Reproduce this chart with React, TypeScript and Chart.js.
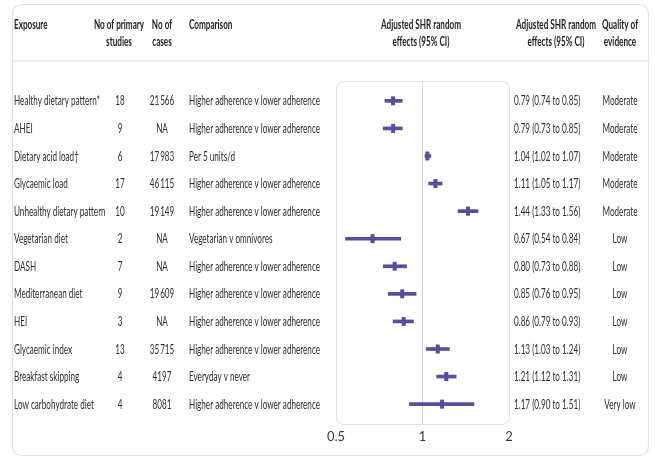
import React, { useEffect, useRef } from "react";
import { Chart, registerables } from "chart.js";

Chart.register(...registerables);

const exposures = [
  "Healthy dietary pattern*",
  "AHEI",
  "Dietary acid load†",
  "Glycaemic load",
  "Unhealthy dietary pattern",
  "Vegetarian diet",
  "DASH",
  "Mediterranean diet",
  "HEI",
  "Glycaemic index",
  "Breakfast skipping",
  "Low carbohydrate diet",
];
const studies = [18, 9, 6, 17, 10, 2, 7, 9, 3, 13, 4, 4];
const cases = ["21\u2009566", "NA", "17\u2009983", "46\u2009115", "19\u2009149", "NA", "NA", "19\u2009609", "NA", "35\u2009715", "4197", "8081"];
const comparisons = [
  "Higher adherence v lower adherence",
  "Higher adherence v lower adherence",
  "Per 5 units/d",
  "Higher adherence v lower adherence",
  "Higher adherence v lower adherence",
  "Vegetarian v omnivores",
  "Higher adherence v lower adherence",
  "Higher adherence v lower adherence",
  "Higher adherence v lower adherence",
  "Higher adherence v lower adherence",
  "Everyday v never",
  "Higher adherence v lower adherence",
];
const shr = [0.79, 0.79, 1.04, 1.11, 1.44, 0.67, 0.8, 0.85, 0.86, 1.13, 1.21, 1.17];
const lower = [0.74, 0.73, 1.02, 1.05, 1.33, 0.54, 0.73, 0.76, 0.79, 1.03, 1.12, 0.9];
const upper = [0.85, 0.85, 1.07, 1.17, 1.56, 0.84, 0.88, 0.95, 0.93, 1.24, 1.31, 1.51];
const quality = ["Moderate", "Moderate", "Moderate", "Moderate", "Moderate", "Low", "Low", "Low", "Low", "Low", "Low", "Very low"];
const xTicks = [0.5, 1, 2];

const PURPLE = "#5a4d9e";
const FONT = "Lato";

function drawText(ctx: CanvasRenderingContext2D, text: string, x: number, y: number, align: CanvasTextAlign, font: string, color: string, sx: number) {
  ctx.save();
  ctx.font = font;
  ctx.fillStyle = color;
  ctx.textAlign = align;
  ctx.textBaseline = "middle";
  ctx.translate(x, y);
  ctx.scale(sx, 1);
  ctx.fillText(text, 0, 0);
  ctx.restore();
}

const tablePlugin = {
  id: "tablePlugin",
  beforeDraw(chart: any) {
    const { ctx, chartArea } = chart;
    ctx.save();
    ctx.fillStyle = "#ffffff";
    ctx.fillRect(0, 0, chart.width, chart.height);
    ctx.strokeStyle = "#e2e2e6";
    ctx.lineWidth = 1.2;
    ctx.beginPath();
    ctx.roundRect(12.5, 4.5, 636, 451, 9);
    ctx.stroke();
    ctx.strokeStyle = "#e6e6e8";
    ctx.lineWidth = 1.5;
    ctx.beginPath();
    ctx.moveTo(12.5, 61);
    ctx.lineTo(648.5, 61);
    ctx.stroke();
    ctx.strokeStyle = "#e0e0e0";
    ctx.lineWidth = 1;
    ctx.beginPath();
    ctx.roundRect(chartArea.left + 0.5, chartArea.top + 0.5, chartArea.right - chartArea.left, chartArea.bottom - chartArea.top, 7);
    ctx.stroke();
    ctx.restore();
  },
  afterDraw(chart: any) {
    const { ctx } = chart;
    const yScale = chart.scales.y;
    const bodyFont = `14px ${FONT}`;
    const headFont = `700 14px ${FONT}`;
    ctx.save();
    ctx.font = bodyFont;
    const w = ctx.measureText("Higher adherence v lower adherence").width;
    const sx = Math.min(1, Math.max(0.5, 131 / w));
    ctx.restore();
    const hc = "#1f1f1f";
    const bc = "#2f2f2f";
    const h1 = 24;
    const h2 = 41;
    drawText(ctx, "Exposure", 14, h1, "left", headFont, hc, sx);
    drawText(ctx, "No of primary", 119, h1, "center", headFont, hc, sx);
    drawText(ctx, "studies", 119, h2, "center", headFont, hc, sx);
    drawText(ctx, "No of", 162, h1, "center", headFont, hc, sx);
    drawText(ctx, "cases", 162, h2, "center", headFont, hc, sx);
    drawText(ctx, "Comparison", 189, h1, "left", headFont, hc, sx);
    drawText(ctx, "Adjusted SHR random", 421, h1, "center", headFont, hc, sx);
    drawText(ctx, "effects (95% CI)", 421, h2, "center", headFont, hc, sx);
    drawText(ctx, "Adjusted SHR random", 556, h1, "center", headFont, hc, sx);
    drawText(ctx, "effects (95% CI)", 556, h2, "center", headFont, hc, sx);
    drawText(ctx, "Quality of", 620, h1, "center", headFont, hc, sx);
    drawText(ctx, "evidence", 620, h2, "center", headFont, hc, sx);

    exposures.forEach((name, i) => {
      const y = yScale.getPixelForValue(i);
      drawText(ctx, name, 14, y, "left", bodyFont, bc, sx);
      drawText(ctx, String(studies[i]), 120, y, "center", bodyFont, bc, sx);
      drawText(ctx, cases[i], 162, y, "center", bodyFont, bc, sx);
      drawText(ctx, comparisons[i], 189, y, "left", bodyFont, bc, sx);
      const txt = `${shr[i].toFixed(2)} (${lower[i].toFixed(2)} to ${upper[i].toFixed(2)})`;
      drawText(ctx, txt, 514, y, "left", bodyFont, bc, sx);
      drawText(ctx, quality[i], 620, y, "center", bodyFont, bc, sx);
    });
  },
};

export default function App() {
  const ref = useRef<HTMLCanvasElement | null>(null);
  useEffect(() => {
    document.body.style.margin = "0";
    const canvas = ref.current;
    if (!canvas) return;
    const chart = new Chart(canvas, {
      type: "bar",
      data: {
        datasets: [
          {
            type: "bar",
            data: exposures.map((_, i) => ({ x: [lower[i], upper[i]], y: i })) as any,
            backgroundColor: PURPLE,
            borderWidth: 0,
            barThickness: 3,
            indexAxis: "y",
          } as any,
          {
            type: "scatter",
            data: exposures.map((_, i) => ({ x: shr[i], y: i })),
            pointStyle: "line",
            rotation: 90,
            radius: 4.5,
            borderWidth: 4,
            borderColor: PURPLE,
            backgroundColor: PURPLE,
          } as any,
        ],
      },
      options: {
        animation: false,
        responsive: true,
        maintainAspectRatio: false,
        indexAxis: "y",
        layout: { padding: { left: 336, right: 146, top: 81, bottom: 13 } },
        plugins: { legend: { display: false }, tooltip: { enabled: false } },
        scales: {
          x: {
            type: "logarithmic",
            min: 0.5,
            max: 2,
            afterBuildTicks: (axis: any) => {
              axis.ticks = xTicks.map((v) => ({ value: v }));
            },
            afterFit: (axis: any) => {
              axis.height = 20;
            },
            ticks: {
              callback: (v: any) => String(v),
              color: "#3a3a3a",
              font: { family: FONT, size: 13 },
              padding: 5,
              autoSkip: false,
              maxRotation: 0,
            },
            grid: {
              color: (c: any) => (c.tick && c.tick.value === 1 ? "#d6d6d6" : "rgba(0,0,0,0)"),
              drawTicks: false,
              lineWidth: 1,
              offset: false,
            },
            border: { display: false },
            offset: false,
          },
          y: {
            type: "linear",
            min: -0.72,
            max: 11.72,
            reverse: true,
            display: false,
            offset: false,
            grid: { offset: false },
          },
        },
      } as any,
      plugins: [tablePlugin],
    });
    return () => chart.destroy();
  }, []);
  return (
    <div style={{ position: "fixed", left: 0, top: 0, width: 655, height: 457, background: "#fff" }}>
      <canvas ref={ref} />
    </div>
  );
}
